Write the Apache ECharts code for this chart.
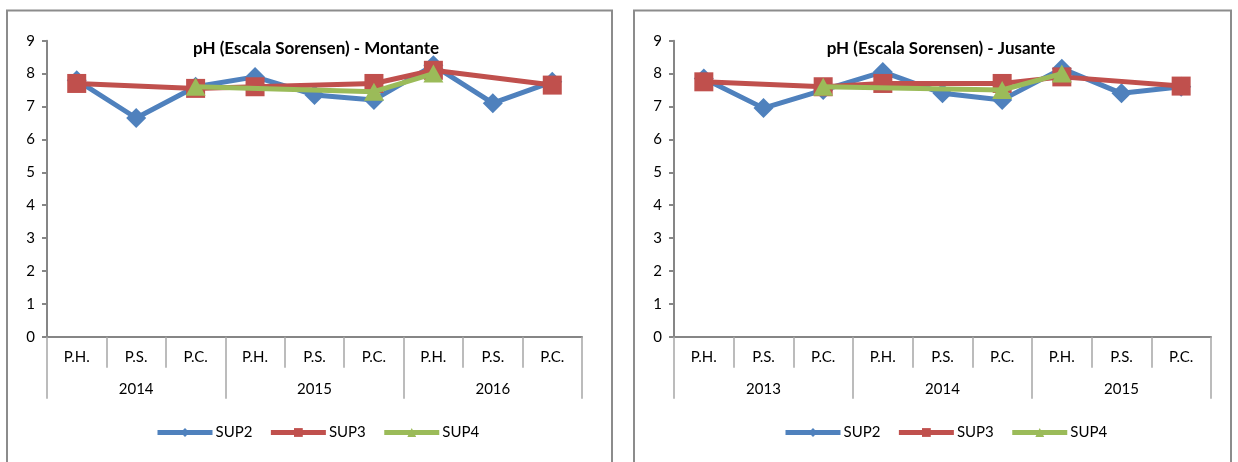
<!DOCTYPE html>
<html>
<head>
<meta charset="utf-8">
<title>pH (Escala Sorensen)</title>
<script src="https://cdn.jsdelivr.net/npm/echarts@6/dist/echarts.min.js"></script>
<style>
  html, body { margin: 0; padding: 0; background: #ffffff; }
  #chart { width: 1238px; height: 462px; }
</style>
</head>
<body>
<div id="chart"></div>
<script>
// Seasons within each year (hydrological periods) and the years below them
const seasons = ['P.H.', 'P.S.', 'P.C.', 'P.H.', 'P.S.', 'P.C.', 'P.H.', 'P.S.', 'P.C.'];
const yearsMontante = ['2014', '2015', '2016'];
const yearsJusante = ['2013', '2014', '2015'];
const seriesNames = ['SUP2', 'SUP3', 'SUP4'];

// pH readings upstream (Montante)
const montanteSup2 = [7.8, 6.65, 7.6, 7.9, 7.35, 7.2, 8.25, 7.1, 7.75];
const montanteSup3 = [7.7, null, 7.55, 7.6, null, 7.7, 8.1, null, 7.65];
const montanteSup4 = [null, null, 7.6, null, null, 7.45, 8.0, null, null];

// pH readings downstream (Jusante)
const jusanteSup2 = [7.85, 6.95, 7.5, 8.05, 7.4, 7.2, 8.15, 7.4, 7.6];
const jusanteSup3 = [7.75, null, 7.6, 7.7, null, 7.7, 7.9, null, 7.62];
const jusanteSup4 = [null, null, 7.6, null, null, 7.5, 8.0, null, null];

const yTicks = { min: 0, max: 9, interval: 1 };

const FONT = 'Lato';
const AXIS_GREY = '#868686';
const SEP_GREY = '#a6a6a6';
const colors = ['#4F81BD', '#C0504D', '#9BBB59'];
const symbols = ['diamond', 'rect', 'triangle'];
const symbolSizes = [20, 19, [20, 18]];

const chart = echarts.init(document.getElementById('chart'), null, { renderer: 'canvas' });

const grids = [
  { left: 47, top: 40.7, width: 535, height: 296 },
  { left: 674, top: 40.7, width: 537, height: 296 }
];

function seasonAxis(gridIndex) {
  return {
    type: 'category', gridIndex, data: seasons, position: 'bottom',
    boundaryGap: true,
    axisLine: { show: true, lineStyle: { color: AXIS_GREY, width: 2 } },
    axisTick: { show: true, alignWithLabel: false, length: 31, lineStyle: { color: SEP_GREY, width: 1.5 } },
    axisLabel: { color: '#000', fontFamily: FONT, fontSize: 15, margin: 13, interval: 0 },
    splitLine: { show: false }
  };
}
function yearAxis(gridIndex, years) {
  return {
    type: 'category', gridIndex, data: years, position: 'bottom',
    boundaryGap: true,
    axisLine: { show: false },
    axisTick: { show: true, alignWithLabel: false, length: 62, lineStyle: { color: SEP_GREY, width: 1.5 } },
    axisLabel: { color: '#000', fontFamily: FONT, fontSize: 15, margin: 45, interval: 0 },
    splitLine: { show: false }
  };
}
function valueAxis(gridIndex) {
  return {
    type: 'value', gridIndex, min: yTicks.min, max: yTicks.max, interval: yTicks.interval,
    axisLine: { show: true, lineStyle: { color: AXIS_GREY, width: 2 } },
    axisTick: { show: true, length: 5, lineStyle: { color: AXIS_GREY, width: 2 } },
    axisLabel: { color: '#000', fontFamily: FONT, fontSize: 15, margin: 12 },
    splitLine: { show: false }
  };
}

function lineSeries(i, data, xAxisIndex, yAxisIndex) {
  return {
    name: seriesNames[i], type: 'line', data,
    xAxisIndex, yAxisIndex,
    connectNulls: true,
    symbol: symbols[i], symbolSize: symbolSizes[i], showAllSymbol: true,
    lineStyle: { color: colors[i], width: 5 },
    itemStyle: { color: colors[i] },
    emphasis: { disabled: true },
    z: 2 + i
  };
}

function legend(left) {
  return {
    data: seriesNames, left, top: 425, orient: 'horizontal', padding: 0,
    itemWidth: 55, itemHeight: 11, itemGap: 16,
    lineStyle: { width: 5 },
    textStyle: { color: '#000', fontFamily: FONT, fontSize: 15, padding: [0, 0, 0, -2] },
    selectedMode: false
  };
}

const option = {
  animation: false,
  backgroundColor: '#ffffff',
  title: [
    { text: 'pH (Escala Sorensen) - Montante', left: 311, top: 35, textAlign: 'center',
      textStyle: { fontFamily: FONT, fontSize: 17, fontWeight: 'bold', color: '#000' } },
    { text: 'pH (Escala Sorensen) - Jusante', left: 936, top: 35, textAlign: 'center',
      textStyle: { fontFamily: FONT, fontSize: 17, fontWeight: 'bold', color: '#000' } }
  ],
  legend: [legend(155), legend(783)],
  grid: grids,
  xAxis: [seasonAxis(0), yearAxis(0, yearsMontante), seasonAxis(1), yearAxis(1, yearsJusante)],
  yAxis: [valueAxis(0), valueAxis(1)],
  series: [
    lineSeries(0, montanteSup2, 0, 0),
    lineSeries(1, montanteSup3, 0, 0),
    lineSeries(2, montanteSup4, 0, 0),
    lineSeries(0, jusanteSup2, 2, 1),
    lineSeries(1, jusanteSup3, 2, 1),
    lineSeries(2, jusanteSup4, 2, 1)
  ],
  graphic: [
    // chart frames (open at the bottom edge of the page)
    { type: 'rect', shape: { x: 7, y: 10.5, width: 605, height: 480 },
      style: { fill: null, stroke: '#8c8c8c', lineWidth: 2 }, silent: true, z: 0 },
    { type: 'rect', shape: { x: 634, y: 10.5, width: 597, height: 480 },
      style: { fill: null, stroke: '#8c8c8c', lineWidth: 2 }, silent: true, z: 0 }
  ]
};

chart.setOption(option);
</script>
</body>
</html>
